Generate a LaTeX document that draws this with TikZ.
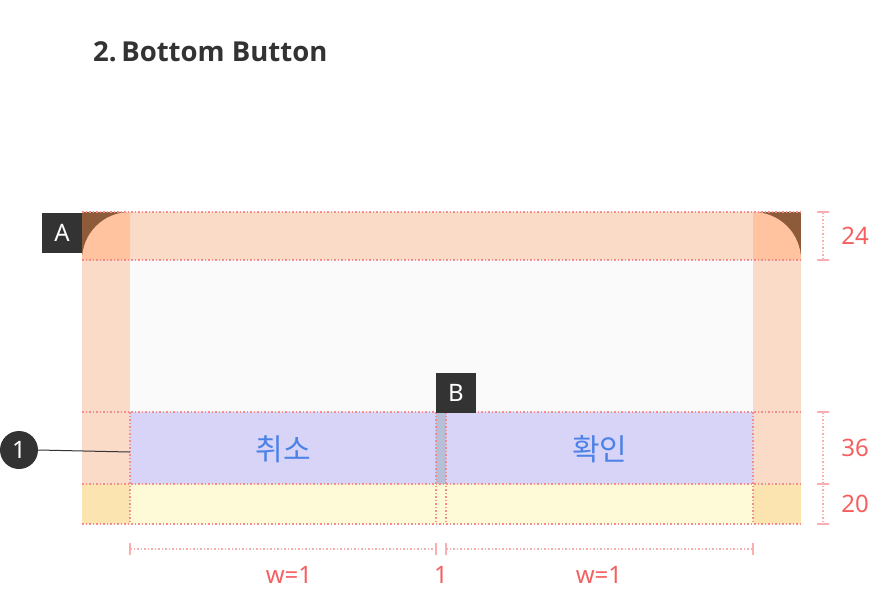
\documentclass[tikz,border=0pt]{standalone}
\usepackage{fontspec}
\setmainfont{Noto Sans}
\newfontfamily\titlefont{Open Sans}
\newfontfamily\krfont{Noto Sans CJK KR}
\definecolor{peach}{HTML}{FADBC7}
\definecolor{cbrown}{HTML}{8E5B3A}
\definecolor{clight}{HTML}{FFC3A0}
\definecolor{inner}{HTML}{FAFAFA}
\definecolor{btn}{HTML}{D7D4F8}
\definecolor{divc}{HTML}{B7BED8}
\definecolor{ylw}{HTML}{FEF9D6}
\definecolor{ylwc}{HTML}{FBE4B0}
\definecolor{dotred}{HTML}{F48C8C}
\definecolor{dimline}{HTML}{F9AFAF}
\definecolor{dimtxt}{HTML}{F55F5F}
\definecolor{kblue}{HTML}{4C82E6}
\definecolor{dark}{HTML}{333333}
\tikzset{
  guide/.style={draw=dotred, line width=1.3pt, dash pattern=on 1.5pt off 2pt},
  dimstyle/.style={draw=dimline, line width=1.3pt, dash pattern=on 1.5pt off 2pt},
  tickstyle/.style={draw=dimline, line width=1.3pt},
  dimlabel/.style={text=dimtxt, font=\fontsize{24}{24}\selectfont, inner sep=0pt},
  tag/.style={fill=dark, text=white, minimum size=40pt, inner sep=0pt, font=\fontsize{24}{24}\selectfont},
  krlabel/.style={text=kblue, font=\krfont\fontsize{30}{30}\selectfont, inner sep=0pt}
}
\begin{document}
\begin{tikzpicture}[x=1pt,y=-1pt]
\useasboundingbox (0,0) rectangle (882,590);
% title
\node[anchor=west, text=dark, font=\titlefont\bfseries\fontsize{27.5}{27.5}\selectfont, inner sep=0pt] (title) at (93,52) {2.\,Bottom Button};
% bands
\fill[peach] (82,212) rectangle (801,260);
\fill[peach] (82,260) rectangle (130,484);
\fill[peach] (753,260) rectangle (801,484);
\fill[inner] (130,260) rectangle (753,412);
% top corners
\fill[cbrown] (82,212) rectangle (130,260);
\fill[clight] (82,260) arc[start angle=180, end angle=270, radius=48] -- (130,260) -- cycle;
\fill[cbrown] (753,212) rectangle (801,260);
\fill[clight] (801,260) arc[start angle=360, end angle=270, radius=48] -- (753,260) -- cycle;
% buttons
\node[fill=btn, minimum width=306pt, minimum height=72pt, inner sep=0pt, anchor=north west] (cancel) at (130,412) {};
\node[fill=divc, minimum width=10pt, minimum height=72pt, inner sep=0pt, anchor=north west] (divider) at (436,412) {};
\node[fill=btn, minimum width=307pt, minimum height=72pt, inner sep=0pt, anchor=north west] (ok) at (446,412) {};
\draw[color=divc!80!black!60, line width=1pt] (441,433) -- (441,465);
\node[krlabel] at ([yshift=-1pt]cancel.center) {취소};
\node[krlabel] at ([yshift=-1pt]ok.center) {확인};
% bottom band
\fill[ylw] (82,484) rectangle (801,524);
\fill[ylwc] (82,484) rectangle (130,524);
\fill[ylwc] (753,484) rectangle (801,524);
% guides
\draw[guide] (82,212) -- (801,212);
\draw[guide] (82,260) -- (801,260);
\draw[guide] (82,412) -- (801,412);
\draw[guide] (82,484) -- (801,484);
\draw[guide] (82,524) -- (801,524);
\draw[guide] (130,412) -- (130,524);
\draw[guide] (753,412) -- (753,524);
\draw[guide] (436,412) -- (436,524);
\draw[guide] (446,412) -- (446,524);
% tags
\node[tag] (tagA) at (62,233) {A};
\node[tag] (tagB) at (456,393) {B};
% callout 1
\node[circle, fill=dark, text=white, minimum size=38pt, inner sep=0pt, font=\fontsize{24}{24}\selectfont] (one) at (19,450) {1};
\coordinate (cancelleft) at (130,452);
\draw[color=dark, line width=1pt] (one.east) -- (cancelleft);
% right dimensions
\coordinate (r1) at (823,212);
\coordinate (r2) at (823,260);
\coordinate (r3) at (823,412);
\coordinate (r4) at (823,484);
\coordinate (r5) at (823,524);
\draw[dimstyle] (r1) -- (r2);
\draw[dimstyle] (r3) -- (r4) -- (r5);
\foreach \c in {r1,r2,r3,r4,r5}{\draw[tickstyle] ([xshift=-6pt]\c) -- ([xshift=6pt]\c);}
\node[dimlabel] (d24) at (855,236) {24};
\node[dimlabel] (d36) at (855,448) {36};
\node[dimlabel] (d20) at (855,504) {20};
% bottom dimensions
\coordinate (b1) at (130,549);
\coordinate (b2) at (436,549);
\coordinate (b3) at (446,549);
\coordinate (b4) at (753,549);
\draw[dimstyle] (b1) -- (b2);
\draw[dimstyle] (b3) -- (b4);
\foreach \c in {b1,b2,b3,b4}{\draw[tickstyle] ([yshift=-6pt]\c) -- ([yshift=6pt]\c);}
\node[dimlabel, anchor=base] (w1) at (289,583) {w=1};
\node[dimlabel, anchor=base] (g1) at (441,583) {1};
\node[dimlabel, anchor=base] (w2) at (599,583) {w=1};
\end{tikzpicture}
\end{document}
